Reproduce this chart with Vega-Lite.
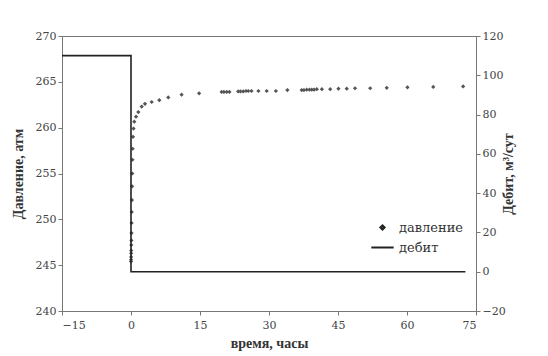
{
  "$schema": "https://vega.github.io/schema/vega-lite/v6.json",
  "width": 414,
  "height": 275,
  "autosize": "none",
  "padding": {"left": 62, "top": 36, "right": 72, "bottom": 45},
  "background": "white",
  "config": {
    "view": {"stroke": "#777", "strokeWidth": 1},
    "axis": {
      "labelFont": "DejaVu Serif", "labelFontSize": 11, "labelColor": "#444",
      "titleFont": "Liberation Serif", "titleFontSize": 14, "titleFontWeight": "bold", "titleColor": "#333",
      "domainColor": "#777", "tickColor": "#777", "grid": false, "tickSize": 4
    }
  },
  "datasets": {
    "pressure": [
      {"t": 0.01, "p": 245.4, "s": "давление"},
      {"t": 0.02, "p": 245.6, "s": "давление"},
      {"t": 0.03, "p": 245.9, "s": "давление"},
      {"t": 0.04, "p": 246.3, "s": "давление"},
      {"t": 0.05, "p": 246.6, "s": "давление"},
      {"t": 0.07, "p": 247.2, "s": "давление"},
      {"t": 0.09, "p": 247.7, "s": "давление"},
      {"t": 0.11, "p": 248.5, "s": "давление"},
      {"t": 0.14, "p": 249.6, "s": "давление"},
      {"t": 0.17, "p": 250.8, "s": "давление"},
      {"t": 0.2, "p": 252.1, "s": "давление"},
      {"t": 0.24, "p": 253.6, "s": "давление"},
      {"t": 0.28, "p": 255.0, "s": "давление"},
      {"t": 0.32, "p": 256.5, "s": "давление"},
      {"t": 0.37, "p": 257.7, "s": "давление"},
      {"t": 0.43, "p": 259.0, "s": "давление"},
      {"t": 0.55, "p": 259.9, "s": "давление"},
      {"t": 0.72, "p": 260.65, "s": "давление"},
      {"t": 1.09, "p": 261.2, "s": "давление"},
      {"t": 1.59, "p": 261.7, "s": "давление"},
      {"t": 2.33, "p": 262.3, "s": "давление"},
      {"t": 3.04, "p": 262.6, "s": "давление"},
      {"t": 4.5, "p": 262.8, "s": "давление"},
      {"t": 6.15, "p": 263.0, "s": "давление"},
      {"t": 8.1, "p": 263.3, "s": "давление"},
      {"t": 11.0, "p": 263.6, "s": "давление"},
      {"t": 14.8, "p": 263.75, "s": "давление"},
      {"t": 19.7, "p": 263.9, "s": "давление"},
      {"t": 20.2, "p": 263.9, "s": "давление"},
      {"t": 20.8, "p": 263.9, "s": "давление"},
      {"t": 21.4, "p": 263.9, "s": "давление"},
      {"t": 23.3, "p": 263.95, "s": "давление"},
      {"t": 23.8, "p": 263.95, "s": "давление"},
      {"t": 24.4, "p": 263.95, "s": "давление"},
      {"t": 25.0, "p": 264.0, "s": "давление"},
      {"t": 25.5, "p": 264.0, "s": "давление"},
      {"t": 26.2, "p": 264.0, "s": "давление"},
      {"t": 27.7, "p": 264.0, "s": "давление"},
      {"t": 29.5, "p": 264.0, "s": "давление"},
      {"t": 31.5, "p": 264.0, "s": "давление"},
      {"t": 34.0, "p": 264.1, "s": "давление"},
      {"t": 37.1, "p": 264.1, "s": "давление"},
      {"t": 37.6, "p": 264.1, "s": "давление"},
      {"t": 38.2, "p": 264.15, "s": "давление"},
      {"t": 38.8, "p": 264.15, "s": "давление"},
      {"t": 39.3, "p": 264.15, "s": "давление"},
      {"t": 39.8, "p": 264.15, "s": "давление"},
      {"t": 40.4, "p": 264.2, "s": "давление"},
      {"t": 41.5, "p": 264.2, "s": "давление"},
      {"t": 43.3, "p": 264.2, "s": "давление"},
      {"t": 45.1, "p": 264.25, "s": "давление"},
      {"t": 46.9, "p": 264.25, "s": "давление"},
      {"t": 48.7, "p": 264.3, "s": "давление"},
      {"t": 52.0, "p": 264.3, "s": "давление"},
      {"t": 55.6, "p": 264.35, "s": "давление"},
      {"t": 60.1, "p": 264.4, "s": "давление"},
      {"t": 65.7, "p": 264.45, "s": "давление"},
      {"t": 72.2, "p": 264.5, "s": "давление"}
    ],
    "rate": [
      {"i": 1, "t": -15, "q": 110},
      {"i": 2, "t": 0, "q": 110},
      {"i": 3, "t": 0, "q": 0},
      {"i": 4, "t": 72.7, "q": 0}
    ]
  },
  "layer": [
    {
      "data": {"name": "pressure"},
      "mark": {"type": "point", "filled": true, "opacity": 1},
      "encoding": {
        "x": {"field": "t", "type": "quantitative", "scale": {"domain": [-15, 75], "nice": false, "zero": false},
              "axis": {"values": [-15, 0, 15, 30, 45, 60, 75], "title": "время, часы", "titlePadding": 6, "labelPadding": 4}},
        "y": {"field": "p", "type": "quantitative", "scale": {"domain": [240, 270], "nice": false, "zero": false},
              "axis": {"values": [240, 245, 250, 255, 260, 265, 270], "title": "Давление, атм", "titlePadding": 10}},
        "color": {"field": "s", "type": "nominal",
                  "scale": {"domain": ["давление", "дебит"], "range": ["#555555", "#222222"]},
                  "legend": {
                    "orient": "none", "legendX": 308, "legendY": 185, "title": null,
                    "labelFont": "DejaVu Serif", "labelFontSize": 13, "labelColor": "#333",
                    "rowPadding": 0, "labelOffset": 4,
                    "symbolStrokeColor": "#222", "symbolStrokeWidth": 2
                  }},
        "shape": {"field": "s", "type": "nominal",
                  "scale": {"domain": ["давление", "дебит"], "range": ["diamond", "stroke"]}},
        "size": {"field": "s", "type": "nominal",
                 "scale": {"domain": ["давление", "дебит"], "range": [18, 500]}}
      }
    },
    {
      "data": {"name": "rate"},
      "mark": {"type": "line", "color": "#222", "strokeWidth": 1.6},
      "encoding": {
        "x": {"field": "t", "type": "quantitative"},
        "y": {"field": "q", "type": "quantitative", "scale": {"domain": [-20, 120], "nice": false, "zero": false},
              "axis": {"orient": "right", "values": [-20, 0, 20, 40, 60, 80, 100, 120], "title": "Дебит, м³/сут", "titleAngle": 270, "titlePadding": 10}},
        "order": {"field": "i", "type": "quantitative"}
      }
    }
  ],
  "resolve": {"scale": {"y": "independent"}}
}
